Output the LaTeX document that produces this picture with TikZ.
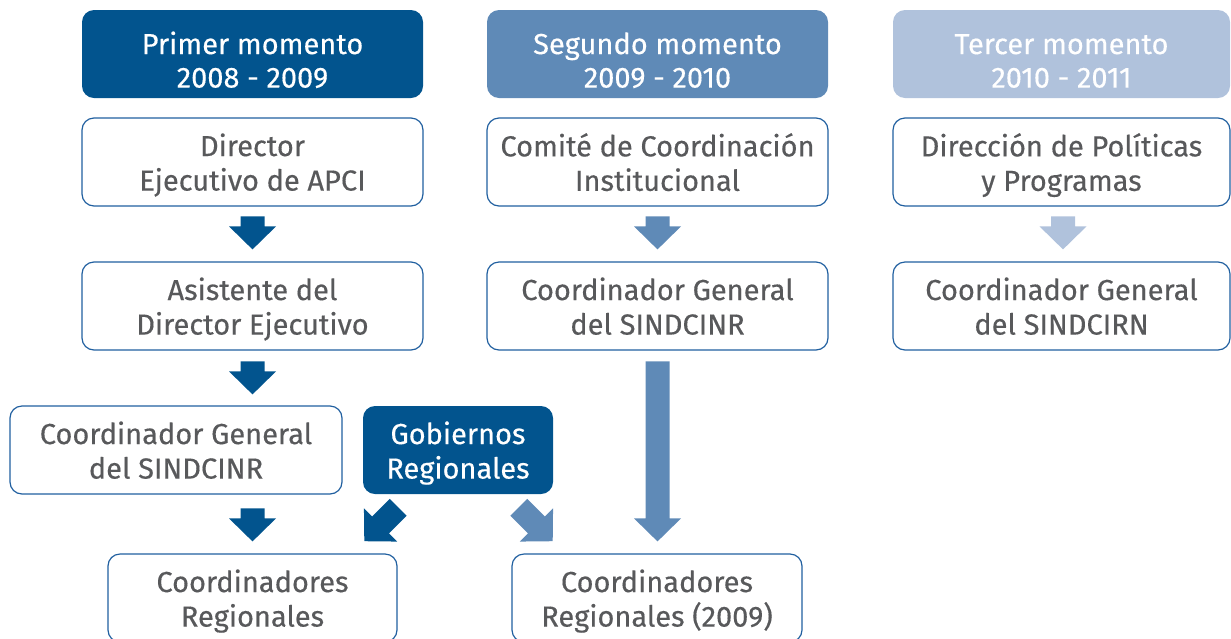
\documentclass[tikz,border=0pt]{standalone}
\usepackage{fontspec}
\setmainfont{Fira Sans}[FakeBold=0.35]
\usetikzlibrary{calc}
\definecolor{cdark}{HTML}{02548E}
\definecolor{cmid}{HTML}{5F8AB7}
\definecolor{clight}{HTML}{B0C2DC}
\definecolor{cborder}{HTML}{2160A0}
\definecolor{ctext}{HTML}{58595B}
\newcommand\blockarrow[4]{% colour, tip, rotation, shaft length
  \fill[#1,shift={(#2)},rotate=#3] (0,0) -- (-23.5,-23) -- (-12,-23) -- (-12,{-23-#4}) -- (12,{-23-#4}) -- (12,-23) -- (23.5,-23) -- cycle;}
\newcommand\hdtext[2]{\raisebox{7pt}{\renewcommand\arraystretch{0.97}\begin{tabular}{@{}c@{}}#1\\#2\end{tabular}}}
\tikzset{
  box/.style={rounded corners=12pt, align=center, inner sep=0pt, font=\fontsize{29}{34.5}\selectfont, text depth=-4pt},
  headbox/.style={box, text=white, minimum height=88pt},
  whitebox/.style={box, draw=cborder, line width=1.2pt, fill=white, text=ctext, minimum height=88pt},
}
\begin{document}
\begin{tikzpicture}[x=1pt,y=-1pt]
\useasboundingbox (0,0) rectangle (1231,638);
\clip (0,0) rectangle (1231,638);
% headers
\node[headbox, fill=cdark, minimum width=341pt] (h1) at (252.5,54) {\hdtext{Primer momento}{2008 - 2009}};
\node[headbox, fill=cmid, minimum width=341pt] (h2) at (657.5,54) {\hdtext{Segundo momento}{2009 - 2010}};
\node[headbox, fill=clight, minimum width=337pt] (h3) at (1061.5,54) {\hdtext{Tercer momento}{2010 - 2011}};
% column 1
\node[whitebox, minimum width=341pt] (a1) at (252.5,162) {Director\\Ejecutivo de APCI};
\node[whitebox, minimum width=341pt] (a2) at (252.5,306) {Asistente del\\Director Ejecutivo};
\node[whitebox, minimum width=332pt] (a3) at (176,450) {Coordinador General\\del SINDCINR};
\node[box, fill=cdark, text=white, minimum width=190pt, minimum height=88pt] (gr) at (458,450) {Gobiernos\\Regionales};
\node[whitebox, minimum width=289pt] (a4) at (252.5,598) {Coordinadores\\Regionales};
% column 2
\node[whitebox, minimum width=341pt] (b1) at (657.5,162) {Comité de Coordinación\\Institucional};
\node[whitebox, minimum width=341pt] (b2) at (657.5,306) {Coordinador General\\del SINDCINR};
\node[whitebox, minimum width=290pt] (b3) at (657,598) {Coordinadores\\Regionales (2009)};
% column 3
\node[whitebox, minimum width=337pt] (c1) at (1061.5,162) {Dirección de Políticas\\y Programas};
\node[whitebox, minimum width=337pt] (c2) at (1061.5,306) {Coordinador General\\del SINDCIRN};
% arrows
\blockarrow{cdark}{$(a2.north)+(0,-12)$}{0}{10}
\blockarrow{cdark}{$(a3.north)+(76.5,-11)$}{0}{10}
\blockarrow{cdark}{$(a4.north)+(0,-12)$}{0}{10}
\blockarrow{cmid}{$(b2.north)+(0,-12)$}{0}{10}
\blockarrow{cmid}{$(b3.north)+(0.5,-12)$}{0}{157}
\blockarrow{clight}{$(c2.north)+(1.5,-12)$}{0}{10}
\blockarrow{cdark}{$(gr.south west)+(1.5,47)$}{-45}{25}
\blockarrow{cmid}{$(gr.south east)+(-0.5,47)$}{45}{25}
\end{tikzpicture}
\end{document}
